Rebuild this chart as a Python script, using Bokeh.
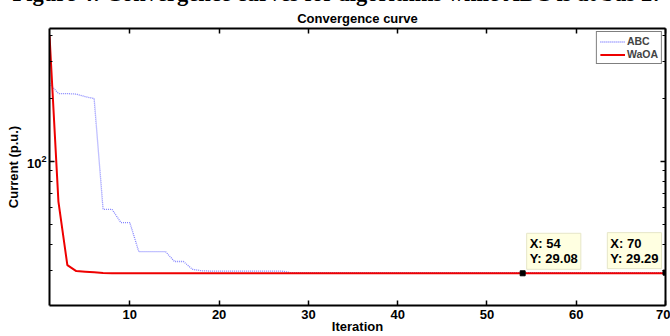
from bokeh.plotting import figure
from bokeh.models import (FixedTicker, LinearAxis, LogAxis, Range1d, Label,
                          Legend, LegendItem, Title)
from bokeh.embed import file_html
from bokeh.resources import INLINE

# ---------------- data ----------------
iterations = list(range(1, 71))
abc = [235, 210, 210, 209, 203, 199, 58.8, 58.8, 50.8, 50.8,
       36.9, 36.9, 36.9, 36.9, 33.1, 33.1, 30.4, 29.9, 29.8, 29.8,
       29.8, 29.8, 29.8, 29.8, 29.8, 29.8, 29.8, 29.29, 29.29, 29.29,
       29.29, 29.29, 29.29, 29.29, 29.29, 29.29, 29.29, 29.29, 29.29, 29.29,
       29.29, 29.29, 29.29, 29.29, 29.29, 29.29, 29.29, 29.29, 29.29, 29.29,
       29.29, 29.29, 29.29, 29.29, 29.29, 29.29, 29.29, 29.29, 29.29, 29.29,
       29.29, 29.29, 29.29, 29.29, 29.29, 29.29, 29.29, 29.29, 29.29, 29.29]
waoa = [400, 64, 31.8, 29.8, 29.6, 29.4, 29.2, 29.1, 29.08, 29.08,
        29.08, 29.08, 29.08, 29.08, 29.08, 29.08, 29.08, 29.08, 29.08, 29.08,
        29.08, 29.08, 29.08, 29.08, 29.08, 29.08, 29.08, 29.08, 29.08, 29.08,
        29.08, 29.08, 29.08, 29.08, 29.08, 29.08, 29.08, 29.08, 29.08, 29.08,
        29.08, 29.08, 29.08, 29.08, 29.08, 29.08, 29.08, 29.08, 29.08, 29.08,
        29.08, 29.08, 29.08, 29.08, 29.08, 29.08, 29.08, 29.08, 29.08, 29.08,
        29.08, 29.08, 29.08, 29.08, 29.08, 29.08, 29.08, 29.08, 29.08, 29.08]
x_ticks = [10, 20, 30, 40, 50, 60, 70]
y_major = [100]
y_minor = [30, 40, 50, 60, 70, 80, 90, 200, 300, 400]
tip_x = [54, 70]
tip_y = [29.08, 29.29]
tip_side = ["right", "left"]

FONT = "Liberation Sans"
caption = "Figure 4: Convergence curves for algorithms while ABC is at bus 27"
chart_title = "Convergence curve"
x_label = "Iteration"
y_label = "Current (p.u.)"

SHIFT = 22  # the caption strip of the source is cut at the top of the page
p = figure(width=670, height=336 + SHIFT, x_range=Range1d(1, 70),
           y_range=Range1d(20.4, 430), y_axis_type="log",
           output_backend="svg", toolbar_location=None, title=None,
           min_border_left=49, min_border_right=5,
           min_border_top=0, min_border_bottom=30)
p.styles = {"margin-top": f"-{SHIFT}px"}
p.outline_line_color = None
p.xgrid.visible = False
p.ygrid.visible = False
p.background_fill_color = "white"

xt = FixedTicker(ticks=x_ticks, minor_ticks=[])
yt = FixedTicker(ticks=y_major, minor_ticks=y_minor)


def style(ax):
    ax.axis_line_width = 2
    ax.axis_line_color = "black"
    ax.major_tick_in = 5
    ax.major_tick_out = 0
    ax.minor_tick_in = 3
    ax.minor_tick_out = 0
    ax.major_tick_line_width = 1.5
    ax.minor_tick_line_width = 1
    ax.major_label_text_font = FONT
    ax.major_label_text_font_style = "bold"
    ax.major_label_text_font_size = "13px"
    ax.major_label_text_color = "black"
    ax.axis_label_text_font = FONT
    ax.axis_label_text_font_style = "bold"
    ax.axis_label_text_font_size = "13px"
    ax.axis_label_text_color = "black"


xa = p.xaxis[0]
xa.ticker = xt
style(xa)
xa.major_label_text_line_height = 0.9
xa.axis_label_text_line_height = 0.9
xa.major_label_standoff = 4
xa.axis_label = x_label
xa.axis_label_standoff = -3

ya = p.yaxis[0]
ya.ticker = yt
style(ya)
ya.major_label_standoff = 3
ya.axis_label = y_label
ya.axis_label_standoff = 3

top = LinearAxis(ticker=xt, major_label_overrides={t: "" for t in x_ticks})
style(top)
top.major_label_standoff = 0
top.major_label_text_font_size = "0px"
p.add_layout(top, "above")
right = LogAxis(ticker=yt, major_label_overrides={t: "" for t in y_major})
style(right)
right.major_label_standoff = 0
right.major_label_text_font_size = "0px"
p.add_layout(right, "right")

p.add_layout(Title(text=chart_title, align="center", standoff=6,
                   text_font=FONT, text_font_style="bold",
                   text_font_size="13px", text_color="black"), "above")
p.add_layout(Title(text=caption, align="left", offset=-37, standoff=0,
                   text_font="Liberation Serif", text_font_style="bold",
                   text_font_size="22.5px", text_color="black"), "above")

r_abc = p.line(iterations, abc, line_color="#7070ff", line_width=1.3,
               line_dash="1 1", line_alpha=0.85)
r_waoa = p.line(iterations, waoa, line_color="#ee0000", line_width=2)

legend = Legend(items=[LegendItem(label="ABC", renderers=[r_abc]),
                       LegendItem(label="WaOA", renderers=[r_waoa])],
                location="top_right")
legend.border_line_color = "black"
legend.border_line_width = 1.2
legend.label_text_font = FONT
legend.label_text_font_style = "bold"
legend.label_text_font_size = "10.5px"
legend.glyph_width = 25
legend.glyph_height = 11
legend.label_height = 11
legend.label_standoff = 2
legend.spacing = 1
legend.padding = 3
legend.margin = 3
p.add_layout(legend)

p.scatter(tip_x, tip_y, marker="square", size=5, color="black")
for tx, ty, side in zip(tip_x, tip_y, tip_side):
    p.add_layout(Label(x=tx, y=ty, x_offset=4 if side == "right" else -4,
                       y_offset=4,
                       text=f"X: {tx}\nY: {ty:.2f}",
                       anchor="bottom_left" if side == "right" else "bottom_right",
                       padding=3, text_font=FONT, text_font_style="bold",
                       text_font_size="13px", text_color="black",
                       text_line_height=1.0,
                       background_fill_color="#ffffe1",
                       border_line_color="#e6e6c8", border_line_width=1))

open("out.html", "w").write(file_html(p, INLINE))
